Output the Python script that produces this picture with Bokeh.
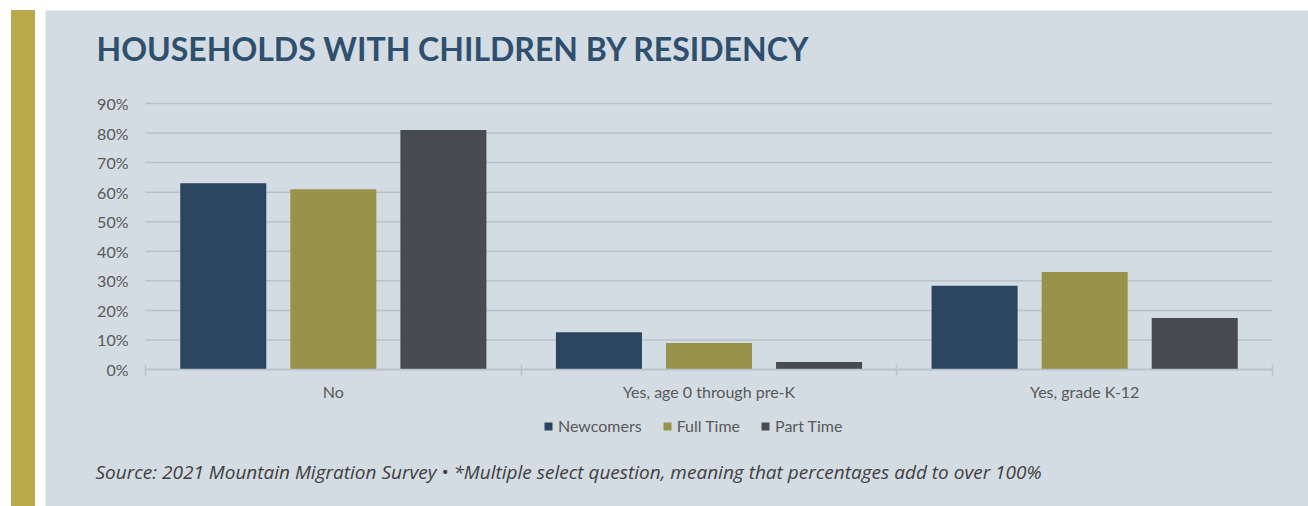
from bokeh.plotting import figure
from bokeh.layouts import row
from bokeh.models import (ColumnDataSource, Range1d, FixedTicker, PrintfTickFormatter,
                          Label, Div)
from bokeh.transform import dodge
from bokeh.embed import file_html
from bokeh.resources import INLINE

# ---- data ----
categories = ["No", "Yes, age 0 through pre-K", "Yes, grade K-12"]
series = ["Newcomers", "Full Time", "Part Time"]
newcomers = [63.0, 12.6, 28.3]
full_time = [61.0, 9.0, 33.0]
part_time = [81.0, 2.5, 17.4]
y_ticks = [0, 10, 20, 30, 40, 50, 60, 70, 80, 90]
title_text = "HOUSEHOLDS WITH CHILDREN BY RESIDENCY"
source_text = ("Source: 2021 Mountain Migration Survey \u2022  *Multiple select question, "
               "meaning that percentages add to over 100%")

# ---- styles ----
PANEL = "#d3dbe3"
GOLD = "#b9a94b"
COLORS = ["#2b4560", "#99924b", "#484b50"]
GRID = "#b9c1c9"
TXT = "#595959"
TITLE_C = "#2f4f6e"
FONT = "Lato"

# ---- layout geometry (pixels inside the panel) ----
W, H = 1263, 496
AX_L, AX_R = 100, 1227      # plot area left/right
AX_T, AX_B = 93, 359        # top (90%) and bottom (0%)
ncat = len(categories)
ymax = y_ticks[-1]
px_x = (AX_R - AX_L) / ncat
px_y = (AX_B - AX_T) / ymax
x_range = Range1d(-AX_L / px_x, ncat + (W - AX_R) / px_x)
y_range = Range1d(-(H - AX_B) / px_y, ymax + AX_T / px_y)

centers = [i + 0.5 for i in range(ncat)]
src = ColumnDataSource(dict(x=centers, Newcomers=newcomers,
                            FullTime=full_time, PartTime=part_time))

p = figure(width=W, height=H, x_range=x_range, y_range=y_range,
           toolbar_location=None, output_backend="svg", min_border=0)
p.margin = (10, 0, 0, 10)
p.background_fill_color = PANEL
p.border_fill_color = PANEL
p.outline_line_color = None
p.xgrid.visible = False
p.ygrid.visible = False

# gridlines limited to the category area
p.segment(x0=[0] * len(y_ticks), x1=[ncat] * len(y_ticks), y0=y_ticks, y1=y_ticks,
          line_color=GRID, line_width=1.5)

off = 0.293
bw = 0.229
for col, name, c, o in zip(["Newcomers", "FullTime", "PartTime"], series, COLORS,
                           [-off, 0.0, off]):
    p.vbar(x=dodge("x", o, range=p.x_range), top=col, width=bw, source=src,
           fill_color=c, line_color=None, legend_label=name)

# y axis
ya = p.yaxis[0]
ya.fixed_location = 0
ya.ticker = FixedTicker(ticks=y_ticks)
ya.formatter = PrintfTickFormatter(format="%d%%")
ya.axis_line_color = None
ya.major_tick_line_color = None
ya.minor_tick_line_color = None
ya.major_tick_out = 0
ya.major_tick_in = 0
ya.major_label_standoff = 17
ya.major_label_text_font = FONT
ya.major_label_text_font_size = "16px"
ya.major_label_text_color = TXT

# x axis
xa = p.xaxis[0]
xa.fixed_location = 0
xa.bounds = (0, ncat)
xa.ticker = FixedTicker(ticks=centers, minor_ticks=list(range(ncat + 1)))
xa.major_label_overrides = {c: lab for c, lab in zip(centers, categories)}
xa.axis_line_color = GRID
xa.axis_line_width = 1.5
xa.major_tick_line_color = None
xa.major_tick_in = 0
xa.major_tick_out = 0
xa.minor_tick_line_color = GRID
xa.minor_tick_line_width = 1.5
xa.minor_tick_in = 5
xa.minor_tick_out = 6
xa.major_label_standoff = 6
xa.major_label_text_font = FONT
xa.major_label_text_font_size = "16px"
xa.major_label_text_color = TXT

# legend
lg = p.legend[0]
lg.orientation = "horizontal"
lg.location = (498, 71)
lg.background_fill_alpha = 0
lg.border_line_color = None
lg.padding = 0
lg.margin = 0
lg.spacing = 20
lg.glyph_width = 10
lg.glyph_height = 10
lg.label_standoff = 5
lg.label_height = 18
lg.label_text_font = FONT
lg.label_text_font_size = "16px"
lg.label_text_color = TXT

# title & source
p.add_layout(Label(x=51, y=H - 38, x_units="screen", y_units="screen", text=title_text,
                   text_font=FONT, text_font_style="bold", text_font_size="32px",
                   text_color=TITLE_C, text_baseline="alphabetic"))
p.add_layout(Label(x=50, y=35, x_units="screen", y_units="screen", text=source_text,
                   text_font="Open Sans", text_font_style="italic", text_font_size="19px",
                   text_color="#404040", text_baseline="alphabetic"))

# gold strip
s = Div(text="", width=24, height=H, styles={"background-color": GOLD})
s.margin = (10, 0, 0, 11)

layout = row(s, p, spacing=0)
open("out.html", "w").write(file_html(layout, INLINE))
